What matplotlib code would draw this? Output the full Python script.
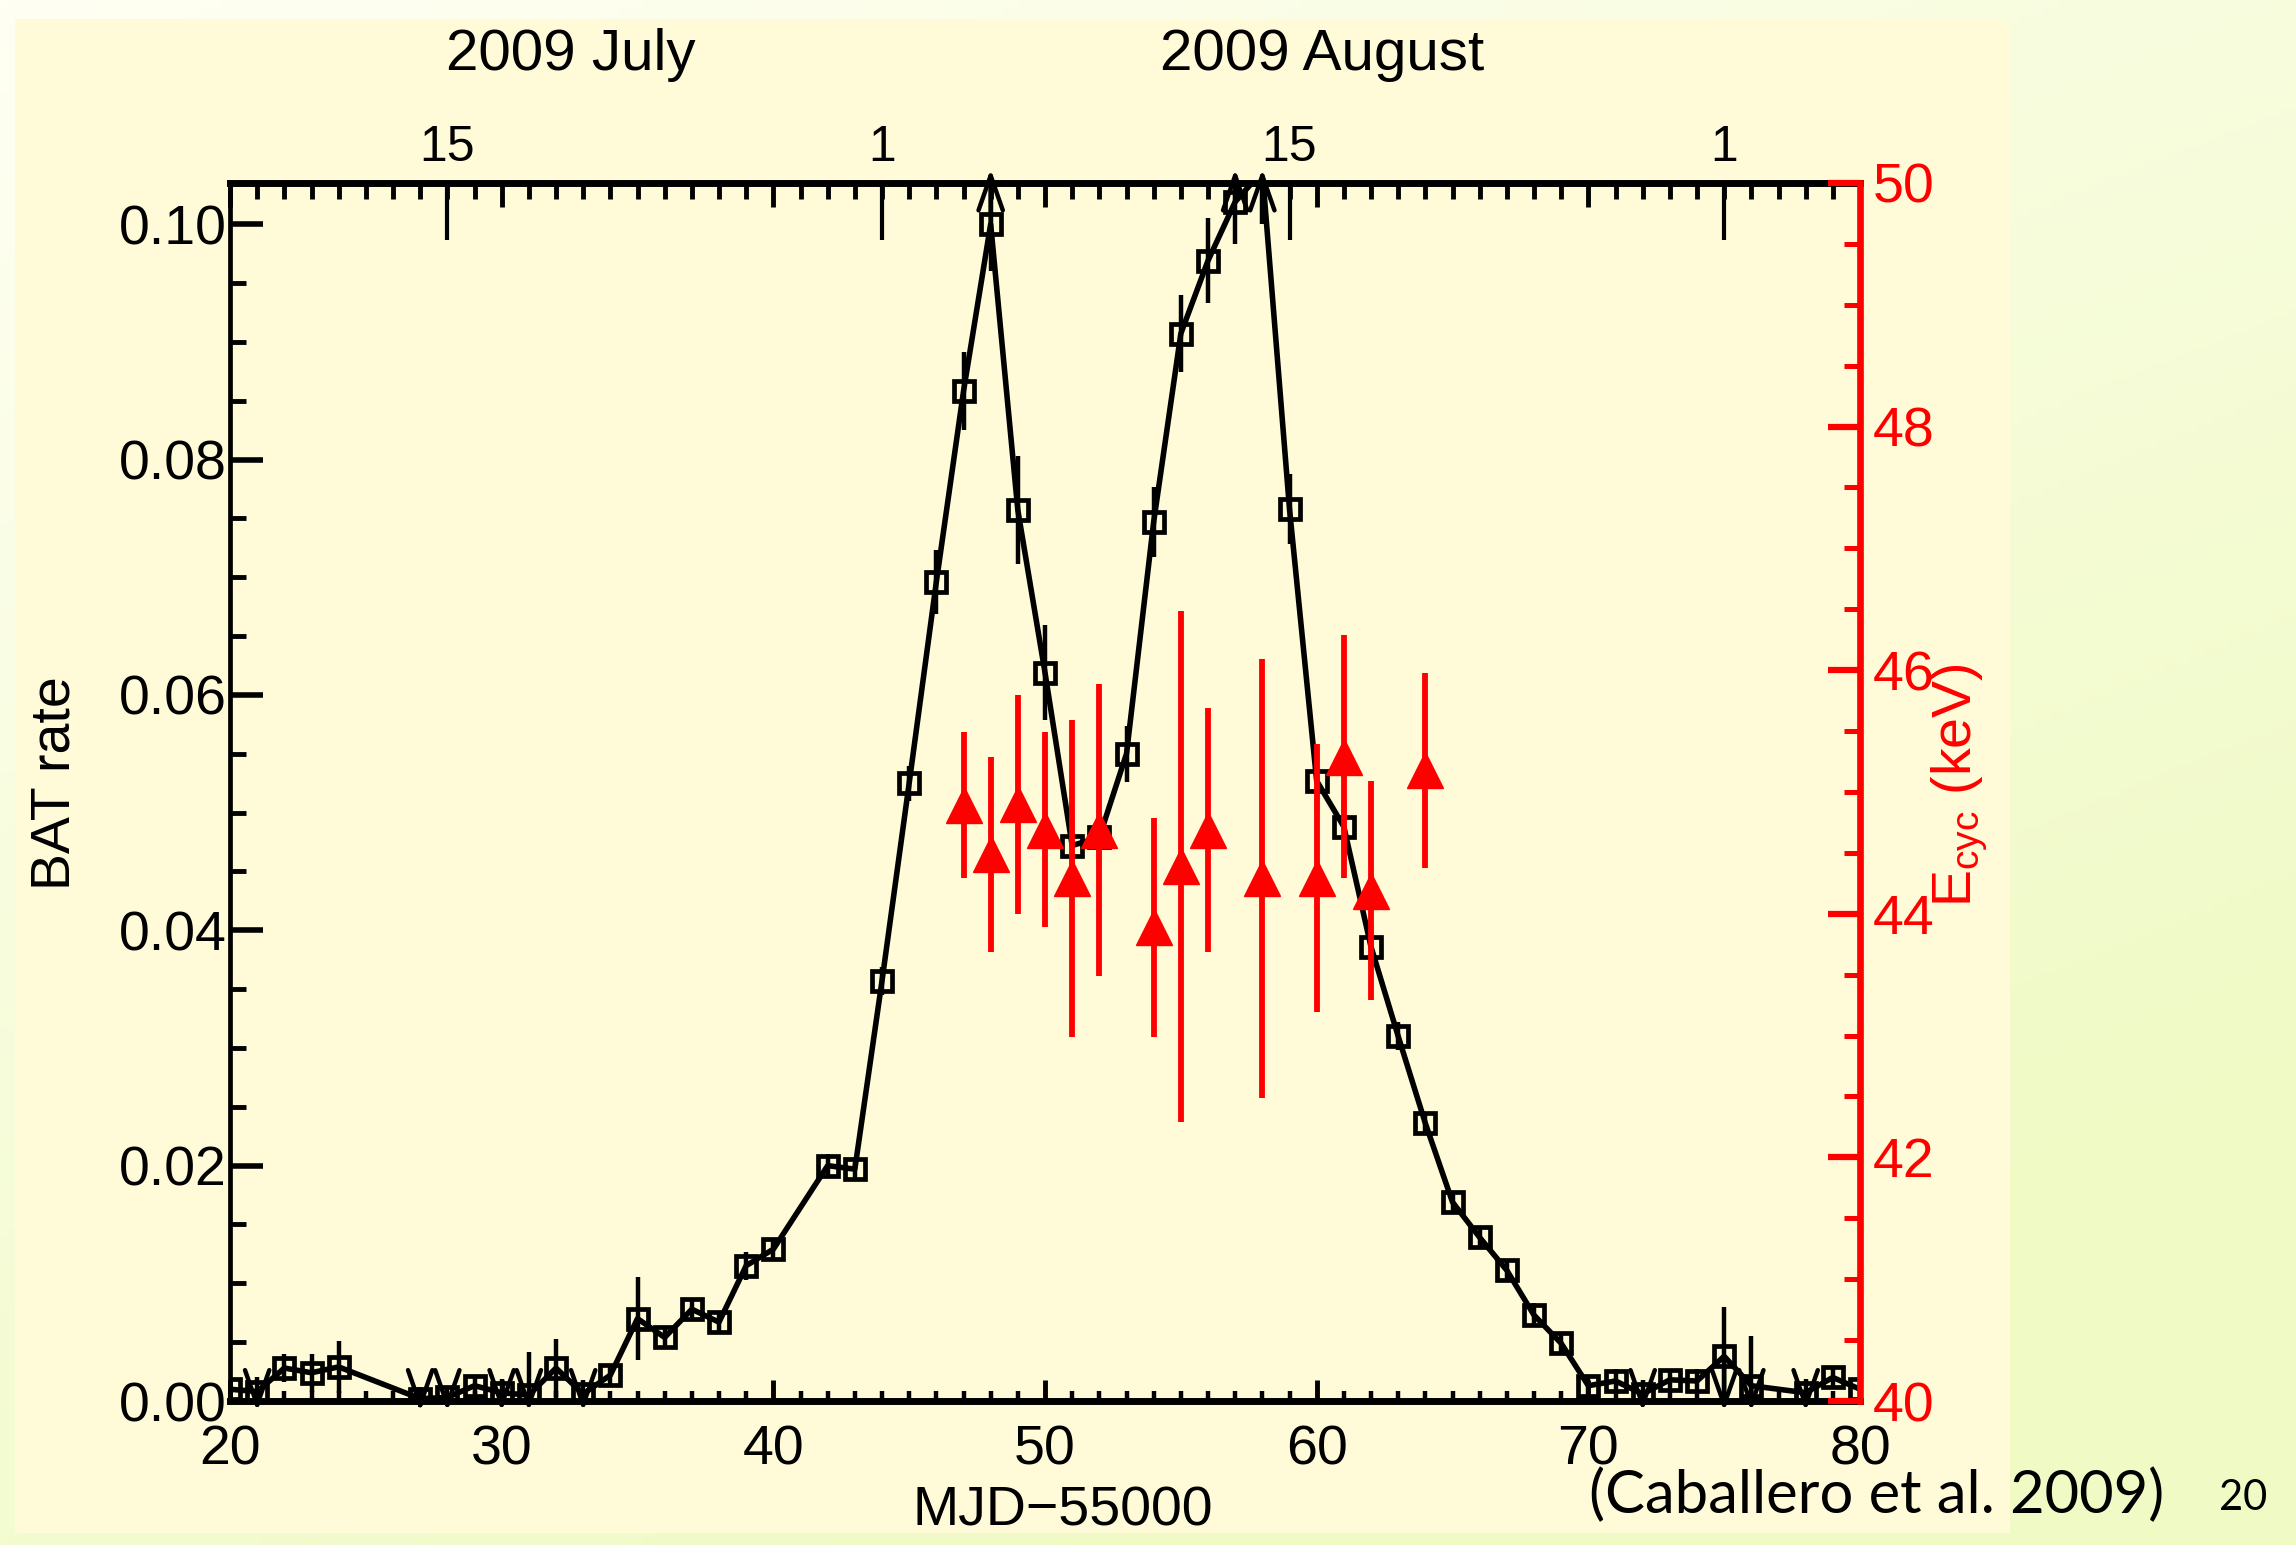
import numpy as np
import matplotlib
matplotlib.use("Agg")
import matplotlib.pyplot as plt
from matplotlib.ticker import MultipleLocator, FixedLocator, FormatStrFormatter, NullLocator
from matplotlib.patches import Rectangle
from matplotlib.transforms import blended_transform_factory

plt.rcParams['font.family'] = ['Liberation Sans', 'DejaVu Sans']
plt.rcParams['mathtext.fontset'] = 'custom'
plt.rcParams['mathtext.rm'] = 'Liberation Sans'
plt.rcParams['mathtext.it'] = 'Liberation Sans:italic'

# Swift/BAT light curve, MJD-55000
mjd = [20, 21, 22, 23, 24, 27, 28, 29, 30, 31, 32, 33, 34, 35, 36, 37, 38, 39, 40,
       42, 43, 44, 45, 46, 47, 48, 49, 50, 51, 52, 53, 54, 55, 56, 57, 58, 59, 60,
       61, 62, 63, 64, 65, 66, 67, 68, 69, 70, 71, 72, 73, 74, 75, 76, 78, 79, 80]
rate = [0.0010, 0.0008, 0.0028, 0.0024, 0.0029, 0.0002, 0.0003, 0.0013, 0.0007, 0.0005,
        0.0028, 0.0006, 0.0022, 0.0070, 0.0054, 0.0078, 0.0067, 0.0115, 0.0129,
        0.0200, 0.0197, 0.0357, 0.0525, 0.0696, 0.0858, 0.1000, 0.0757, 0.0619, 0.0472,
        0.0479, 0.0550, 0.0747, 0.0907, 0.0969, 0.1019, 0.1045, 0.0758, 0.0527,
        0.0488, 0.0386, 0.0310, 0.0236, 0.0169, 0.0139, 0.0111, 0.0073, 0.0049, 0.0013,
        0.0017, 0.0006, 0.0018, 0.0017, 0.0038, 0.0013, 0.0007, 0.0020, 0.0010]
rate_err = [0.0006, 0.0012, 0.0012, 0.0016, 0.0022, 0.0010, 0.0010, 0.0009, 0.0012, 0.0037,
            0.0025, 0.0012, 0.0008, 0.0035, 0.0008, 0.0008, 0.0008, 0.0012, 0.0008,
            0.0010, 0.0008, 0.0012, 0.0015, 0.0027, 0.0033, 0.0040, 0.0046, 0.0040, 0.0030,
            0.0024, 0.0024, 0.0030, 0.0033, 0.0036, 0.0036, 0.0045, 0.0030, 0.0028,
            0.0022, 0.0020, 0.0012, 0.0010, 0.0008, 0.0008, 0.0008, 0.0010, 0.0008, 0.0008,
            0.0010, 0.0012, 0.0008, 0.0010, 0.0042, 0.0042, 0.0012, 0.0009, 0.0006]

# cyclotron line energy
ecyc_mjd = [47, 48, 49, 50, 51, 52, 54, 55, 56, 58, 60, 61, 62, 64]
ecyc = [44.89, 44.49, 44.90, 44.69, 44.29, 44.69, 43.89, 44.39, 44.69, 44.29,
        44.29, 45.29, 44.19, 45.18]
ecyc_err = [0.6, 0.8, 0.9, 0.8, 1.3, 1.2, 0.9, 2.1, 1.0, 1.8, 1.1, 1.0, 0.9, 0.8]

# calendar axis on top
date_ticks = [28, 44, 59, 75]
date_labels = ['15', '1', '15', '1']
months = ['2009 July', '2009 August']
month_pos = [32.55, 60.2]

xmin, xmax = 20, 80
ymin, ymax = 0.0, 0.1035
emin, emax = 40, 50

W, H = 2296, 1545
fig = plt.figure(figsize=(W / 100, H / 100), dpi=100)

# slide background + pasted plot panel
bg = fig.add_axes([0, 0, 1, 1], zorder=-10)
gx, gy = np.meshgrid(np.linspace(0, 1, 300), np.linspace(0, 1, 200))
t = np.clip(0.45 * gx + 0.75 * gy, 0, 1)[..., None]
c0 = np.array([255, 255, 243]) / 255
c1 = np.array([239, 250, 196]) / 255
bg.imshow(c0 * (1 - t) + c1 * t, extent=[0, 1, 0, 1], aspect='auto', origin='upper')
bg.add_patch(Rectangle((15 / W, 1 - 1533 / H), (2010 - 15) / W, (1533 - 19) / H,
                       color='#FFFAD7', lw=0))
bg.set_xlim(0, 1)
bg.set_ylim(0, 1)
bg.axis('off')

ax = fig.add_axes([230 / W, 1 - 1401 / H, (1860 - 230) / W, (1401 - 183) / H])
ax.set_facecolor('none')

ax.errorbar(mjd, rate, yerr=rate_err, fmt='s-', color='k', mfc='none', ms=14.5,
            mew=3.4, lw=4, elinewidth=3.2, capsize=0)

# limit arrows where error bars leave the plot
for x, y, e in zip(mjd, rate, rate_err):
    if y + e > ymax:
        ax.annotate('', xy=(x, ymax + 0.0012), xytext=(x, min(y, ymax)),
                    arrowprops=dict(arrowstyle='->,head_length=1.0,head_width=0.35',
                                    lw=3.2, color='k', shrinkA=0, shrinkB=0,
                                    mutation_scale=25),
                    annotation_clip=False)
    if y - e < ymin:
        ax.annotate('', xy=(x, ymin - 0.0009), xytext=(x, y),
                    arrowprops=dict(arrowstyle='->,head_length=1.0,head_width=0.35',
                                    lw=3.2, color='k', shrinkA=0, shrinkB=0,
                                    mutation_scale=25),
                    annotation_clip=False)

ax.set_xlim(xmin, xmax)
ax.set_ylim(ymin, ymax)
ax.xaxis.set_major_locator(MultipleLocator(10))
ax.xaxis.set_minor_locator(MultipleLocator(1))
ax.yaxis.set_major_locator(MultipleLocator(0.02))
ax.yaxis.set_minor_locator(MultipleLocator(0.005))
ax.yaxis.set_major_formatter(FormatStrFormatter('%.2f'))
ax.tick_params(axis='x', which='both', direction='in', top=False, bottom=True,
               labelsize=40, pad=17)
ax.tick_params(axis='x', which='major', length=15, width=3.5)
ax.tick_params(axis='x', which='minor', length=7.5, width=3.2)
ax.tick_params(axis='y', which='both', direction='in', right=False, left=True,
               labelsize=40, pad=2.5)
ax.tick_params(axis='y', which='major', length=24, width=4)
ax.tick_params(axis='y', which='minor', length=11.5, width=3.5)
ax.spines['right'].set_visible(False)
ax.spines['top'].set_linewidth(5)
ax.spines['bottom'].set_linewidth(5)
ax.spines['left'].set_linewidth(3.4)

# top axis: mirrored MJD ticks
axt = ax.twiny()
axt.set_xlim(xmin, xmax)
axt.xaxis.set_major_locator(MultipleLocator(10))
axt.xaxis.set_minor_locator(MultipleLocator(1))
axt.tick_params(axis='x', which='both', direction='in', top=True, bottom=False,
                labeltop=False, labelbottom=False)
axt.tick_params(axis='x', which='major', length=17, width=3.5)
axt.tick_params(axis='x', which='minor', length=11.5, width=3.5)
for s in axt.spines.values():
    s.set_visible(False)

# top axis: calendar days
axd = ax.twiny()
axd.set_xlim(xmin, xmax)
axd.xaxis.set_major_locator(FixedLocator(date_ticks))
axd.xaxis.set_minor_locator(NullLocator())
axd.set_xticklabels(date_labels)
axd.tick_params(axis='x', which='major', direction='in', top=True, bottom=False,
                labeltop=True, labelbottom=False, length=41, width=3,
                labelsize=36, pad=8.5)
for s in axd.spines.values():
    s.set_visible(False)

trans = blended_transform_factory(ax.transData, fig.transFigure)
for m, p in zip(months, month_pos):
    ax.text(p, 1 - 70 / H, m, transform=trans, ha='center', va='baseline', fontsize=42)

# right axis: cyclotron energy
ax2 = ax.twinx()
ax2.errorbar(ecyc_mjd, ecyc, yerr=ecyc_err, fmt='^', color='red', ms=26, mew=1,
             elinewidth=4.2, capsize=0)
ax2.set_ylim(emin, emax)
ax2.yaxis.set_major_locator(MultipleLocator(2))
ax2.yaxis.set_minor_locator(MultipleLocator(0.5))
ax2.tick_params(axis='y', which='both', direction='in', colors='red', right=True,
                left=False, labelsize=40, pad=9)
ax2.tick_params(axis='y', which='major', length=23, width=4.5)
ax2.tick_params(axis='y', which='minor', length=11.5, width=3.6)
for k in ['left', 'top', 'bottom']:
    ax2.spines[k].set_visible(False)
ax2.spines['right'].set_color('red')
ax2.spines['right'].set_linewidth(4.8)

fig.text(56 / W, 1 - 783 / H, 'BAT rate', rotation=90, ha='center', va='center',
         fontsize=40)
fig.text(1063 / W, 1 - 1526 / H, 'MJD\u221255000', ha='center', va='baseline',
         fontsize=40)
fig.text(1960 / W, 1 - 785 / H, r'E$_{\mathrm{cyc}}$ (keV)', rotation=90, ha='center',
         va='center', fontsize=40, color='red')

fig.text(2164 / W, 1 - 1513 / H, '(Caballero et al. 2009)', ha='right', va='baseline',
         fontsize=43, family=['Lato', 'DejaVu Sans'])
fig.text(2243 / W, 1 - 1510 / H, '20', ha='center', va='baseline', fontsize=30,
         family=['Lato', 'DejaVu Sans'])

fig.savefig('out.png', dpi=100)
